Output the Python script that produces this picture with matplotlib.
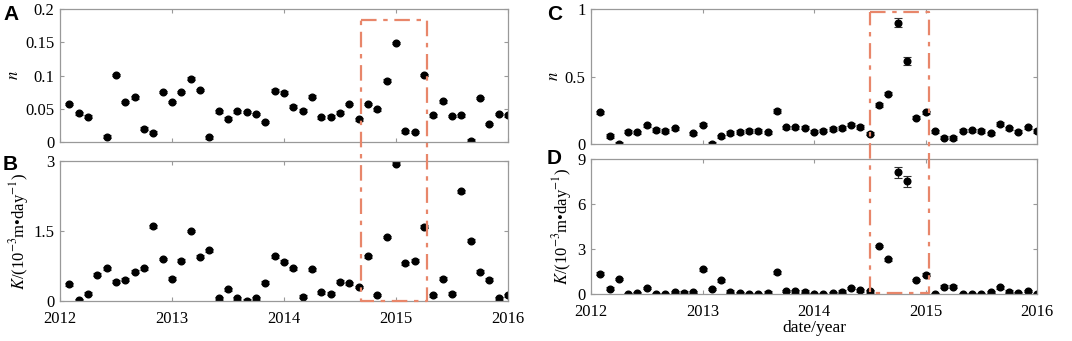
import numpy as np
import matplotlib
matplotlib.use('Agg')
import matplotlib.pyplot as plt
from matplotlib.lines import Line2D

plt.rcParams['font.family'] = ['Liberation Serif', 'DejaVu Serif']
plt.rcParams['mathtext.fontset'] = 'stix'

nan = np.nan
# month index since Jan 2012 (1 = Feb 2012 ... 48 = Jan 2016)
months = [1, 2, 3, 4, 5, 6, 7, 8, 9, 10, 11, 12, 13, 14, 15, 16,
          17, 18, 19, 20, 21, 22, 23, 24, 25, 26, 27, 28, 29, 30, 31, 32,
          33, 34, 35, 36, 37, 38, 39, 40, 41, 42, 43, 44, 45, 46, 47, 48]
dates = 2012 + np.array(months) / 12.0

n_left = [0.057, 0.043, 0.038, nan, 0.008, 0.101, 0.060, 0.067, 0.020, 0.014, 0.075, 0.060,
          0.075, 0.095, 0.078, 0.007, 0.046, 0.035, 0.046, 0.045, 0.042, 0.030, 0.077, 0.074,
          0.053, 0.047, 0.068, 0.037, 0.038, 0.044, 0.057, 0.034, 0.057, 0.049, 0.092, 0.149,
          0.016, 0.015, 0.101, 0.040, 0.061, 0.039, 0.040, 0.002, 0.066, 0.027, 0.042, 0.040]
k_left = [0.36, 0.02, 0.16, 0.56, 0.70, 0.41, 0.46, 0.63, 0.70, 1.60, 0.90, 0.48,
          0.86, 1.50, 0.95, 1.09, 0.06, 0.25, 0.06, 0.01, 0.06, 0.39, 0.96, 0.84,
          0.70, 0.09, 0.68, 0.19, 0.16, 0.41, 0.38, 0.30, 0.96, 0.13, 1.37, 2.94,
          0.81, 0.86, 1.59, 0.12, 0.48, 0.16, 2.35, 1.29, 0.63, 0.46, 0.06, 0.12]
n_right = [0.235, 0.059, 0.0, 0.091, 0.086, 0.138, 0.104, 0.096, 0.116, nan, 0.079, 0.143,
           0.002, 0.057, 0.081, 0.089, 0.096, 0.096, 0.086, 0.244, 0.123, 0.123, 0.121, 0.091,
           0.099, 0.111, 0.119, 0.143, 0.126, 0.077, 0.289, 0.373, 0.899, 0.612, 0.195, 0.235,
           0.094, 0.047, 0.044, 0.099, 0.101, 0.096, 0.079, 0.148, 0.116, 0.091, 0.123, 0.096]
k_right = [1.36, 0.36, 1.00, 0.0, 0.07, 0.40, 0.02, 0.0, 0.13, 0.09, 0.13, 1.64,
           0.33, 0.91, 0.16, 0.04, 0.0, 0.0, 0.09, 1.44, 0.20, 0.18, 0.16, 0.02,
           0.0, 0.07, 0.16, 0.42, 0.24, 0.18, 3.22, 2.31, 8.11, 7.51, 0.93, 1.29,
           0.0, 0.49, 0.49, 0.0, 0.0, 0.0, 0.13, 0.44, 0.16, 0.04, 0.22, 0.0]

n_right_err = np.full(48, 0.012)
n_right_err[32] = 0.035
n_right_err[33] = 0.03
k_right_err = np.full(48, 0.08)
k_right_err[32] = 0.35
k_right_err[33] = 0.35

years = [2012, 2013, 2014, 2015, 2016]
box_left = (2014.69, 2015.28)
box_right = (2014.50, 2015.03)

W, H = 1072, 341
fig = plt.figure(figsize=(W / 100, H / 100), dpi=100)


def px_axes(x0, x1, y0, y1):
    return fig.add_axes([x0 / W, 1 - y1 / H, (x1 - x0) / W, (y1 - y0) / H])


axA = px_axes(60, 508, 9, 142)
axB = px_axes(60, 508, 161, 301)
axC = px_axes(591, 1037, 9, 144)
axD = px_axes(591, 1037, 159, 294)


def panel(ax, y, err, ylim, yticks, ylabels, ylab, show_x):
    ax.errorbar(dates, y, yerr=err, fmt='o', color='black', ms=4.8,
                ecolor='#333333', elinewidth=0.8, capsize=3, capthick=0.8)
    ax.set_xlim(2012, 2016)
    ax.set_ylim(*ylim)
    ax.set_xticks(years)
    ax.set_yticks(yticks)
    ax.set_yticklabels(ylabels)
    if show_x:
        ax.set_xticklabels([str(v) for v in years])
    else:
        ax.set_xticklabels([])
    ax.tick_params(direction='in', top=True, right=True, length=3,
                   color='#999999', labelsize=12, pad=4)
    ax.tick_params(axis='x', pad=7)
    for s in ax.spines.values():
        s.set_color('#999999')
        s.set_linewidth(0.9)
    ax.set_ylabel(ylab, fontsize=12, labelpad=2)


klab = r'$K$/(10$^{-3}$m•day$^{-1}$)'
panel(axA, n_left, 0.002, (0, 0.2), [0, 0.05, 0.1, 0.15, 0.2],
      ['0', '0.05', '0.1', '0.15', '0.2'], r'$n$', False)
panel(axB, k_left, 0.03, (0, 3), [0, 1.5, 3], ['0', '1.5', '3'], klab, True)
panel(axC, n_right, n_right_err, (0, 1), [0, 0.5, 1], ['0', '0.5', '1'], r'$n$', False)
panel(axD, k_right, k_right_err, (0, 9), [0, 3, 6, 9], ['0', '3', '6', '9'], klab, True)
axD.set_xlabel('date/year', fontsize=12.5, labelpad=0)

for ax, lab, xp, yp in [(axA, 'A', 3, 15), (axB, 'B', 3, 164), (axC, 'C', 547, 15), (axD, 'D', 547, 158)]:
    fig.text(xp / W, 1 - yp / H, lab, fontsize=15, fontweight='bold',
             family='Liberation Sans', va='center', ha='left')

inv = fig.transFigure.inverted()


def draw_box(ax_top, ax_bot, xs, ytop, ybot):
    x0, x1 = xs
    tl = inv.transform(ax_top.transData.transform((x0, ytop)))
    tr = inv.transform(ax_top.transData.transform((x1, ytop)))
    br = inv.transform(ax_bot.transData.transform((x1, ybot)))
    bl = inv.transform(ax_bot.transData.transform((x0, ybot)))
    pts = np.array([tl, tr, br, bl, tl])
    fig.add_artist(Line2D(pts[:, 0], pts[:, 1], transform=fig.transFigure,
                          color='#E8866A', lw=1.6, linestyle=(0, (7, 3, 2, 3))))


draw_box(axA, axB, box_left, 0.183, 0.005)
draw_box(axC, axD, box_right, 0.975, 0.08)

fig.savefig('out.png', dpi=100)
